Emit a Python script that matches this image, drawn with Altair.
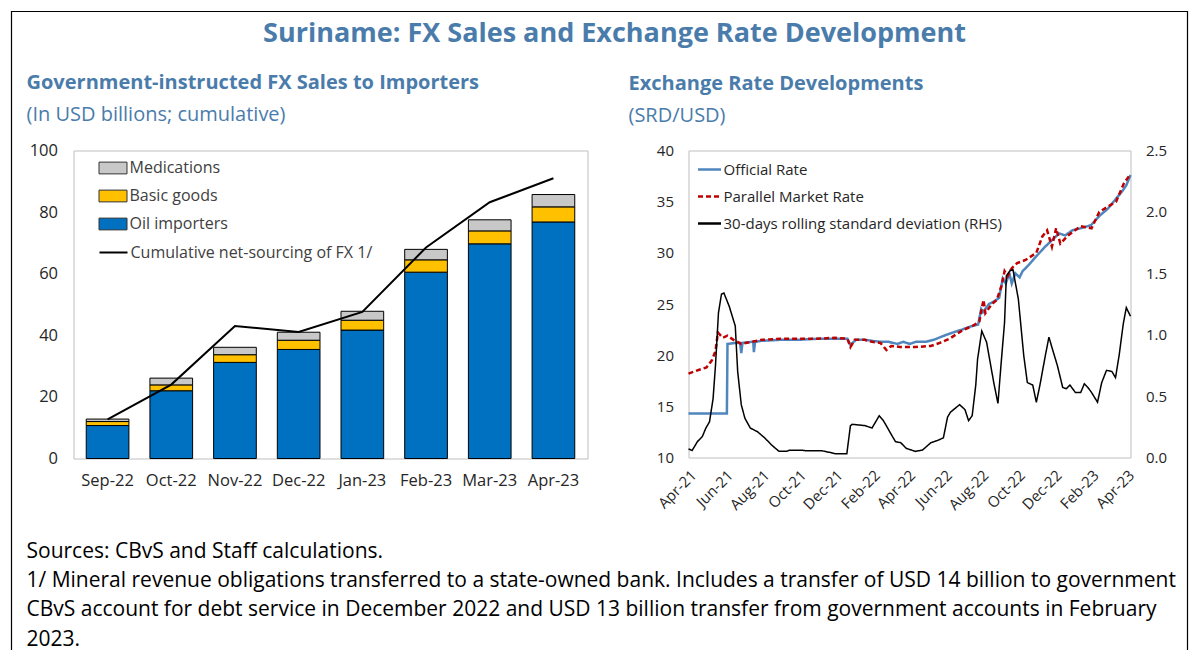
import altair as alt
import pandas as pd

FONT = "Open Sans"
BLUE_T = "#4a7cab"

# ---------------- Left panel data ----------------
months = ["Sep-22", "Oct-22", "Nov-22", "Dec-22", "Jan-23", "Feb-23", "Mar-23", "Apr-23"]
oil_importers = [10.7, 22.0, 31.2, 35.4, 41.7, 60.5, 69.7, 76.8]
basic_goods = [1.3, 1.9, 2.5, 3.0, 3.2, 4.0, 4.2, 4.9]
medications = [0.8, 2.2, 2.4, 2.6, 2.9, 3.4, 3.6, 4.0]
net_sourcing = [12.7, 24.0, 43.0, 41.1, 47.6, 68.5, 83.2, 91.0]

seg_names = ["Medications", "Basic goods", "Oil importers"]
seg_colors = ["#c8c8c8", "#ffc000", "#0070c0"]
line_name = "Cumulative net-sourcing of FX 1/"

# ---------------- Right panel data ----------------
official_dates = ["2021-04-01", "2021-06-04", "2021-06-05", "2021-06-20", "2021-06-26", "2021-06-28",
                  "2021-06-30", "2021-07-15", "2021-07-18", "2021-07-19", "2021-07-21", "2021-08-01",
                  "2021-09-01", "2021-10-01", "2021-11-01", "2021-12-01", "2021-12-22", "2021-12-27",
                  "2022-01-05", "2022-01-20", "2022-02-01", "2022-02-15", "2022-03-01", "2022-03-15",
                  "2022-03-25", "2022-04-05", "2022-04-15", "2022-05-01", "2022-05-15", "2022-06-01",
                  "2022-06-15", "2022-07-01", "2022-07-15", "2022-07-28", "2022-08-02", "2022-08-05",
                  "2022-08-15", "2022-08-25", "2022-09-01", "2022-09-07", "2022-09-12", "2022-09-18",
                  "2022-09-22", "2022-09-28", "2022-10-05", "2022-10-10", "2022-10-20", "2022-11-01",
                  "2022-11-15", "2022-12-01", "2022-12-10", "2022-12-20", "2023-01-01", "2023-01-15",
                  "2023-02-01", "2023-02-15", "2023-03-01", "2023-03-15", "2023-03-25", "2023-04-01",
                  "2023-04-08"]
official_rate = [14.3, 14.3, 21.1, 21.2, 21.2, 20.2, 21.2, 21.3, 21.3, 20.3, 21.3, 21.4,
                 21.5, 21.5, 21.6, 21.6, 21.6, 21.0, 21.5, 21.5, 21.4, 21.3, 21.3, 21.1,
                 21.3, 21.1, 21.3, 21.3, 21.5, 21.9, 22.2, 22.5, 22.8, 23.0, 24.5, 24.2,
                 25.0, 25.3, 25.6, 27.5, 27.0, 28.0, 27.0, 28.0, 27.6, 28.2, 28.8, 29.6,
                 30.5, 31.4, 31.9, 31.7, 32.2, 32.4, 32.7, 33.6, 34.3, 35.3, 36.0, 36.6,
                 37.6]

parallel_dates = ["2021-04-01", "2021-04-20", "2021-05-01", "2021-05-10", "2021-05-16", "2021-05-20",
                  "2021-05-28", "2021-06-05", "2021-06-15", "2021-06-28", "2021-07-15", "2021-08-01",
                  "2021-09-01", "2021-10-01", "2021-11-01", "2021-12-01", "2021-12-22", "2021-12-27",
                  "2022-01-03", "2022-01-20", "2022-02-01", "2022-02-15", "2022-02-25", "2022-03-05",
                  "2022-03-20", "2022-04-15", "2022-05-10", "2022-05-25", "2022-06-10", "2022-07-01",
                  "2022-07-20", "2022-07-30", "2022-08-03", "2022-08-06", "2022-08-09", "2022-08-20",
                  "2022-08-28", "2022-09-05", "2022-09-10", "2022-09-15", "2022-09-22", "2022-10-01",
                  "2022-10-15", "2022-11-02", "2022-11-12", "2022-11-20", "2022-11-28", "2022-12-05",
                  "2022-12-12", "2022-12-25", "2023-01-15", "2023-02-02", "2023-02-15", "2023-03-01",
                  "2023-03-15", "2023-03-28", "2023-04-08"]
parallel_rate = [18.2, 18.6, 18.8, 19.5, 20.4, 22.2, 21.7, 21.9, 21.5, 21.1, 21.3, 21.5,
                 21.6, 21.6, 21.6, 21.7, 21.6, 20.8, 21.5, 21.5, 21.3, 21.2, 20.5, 20.9,
                 20.8, 20.8, 20.9, 21.2, 21.6, 22.4, 22.9, 23.3, 24.6, 25.4, 24.1, 25.0,
                 25.4, 26.8, 28.2, 27.7, 28.5, 29.0, 29.3, 30.0, 31.6, 32.2, 30.6, 32.4,
                 30.9, 31.7, 32.6, 32.4, 34.0, 34.5, 35.0, 36.8, 37.7]

sd_dates = ["2021-04-01", "2021-04-07", "2021-04-16", "2021-04-24", "2021-04-30", "2021-05-06",
            "2021-05-12", "2021-05-16", "2021-05-21", "2021-05-26", "2021-05-30", "2021-06-08",
            "2021-06-18", "2021-06-22", "2021-06-28", "2021-07-04", "2021-07-13", "2021-07-25",
            "2021-08-06", "2021-08-18", "2021-08-30", "2021-09-11", "2021-09-17", "2021-10-05",
            "2021-10-16", "2021-11-10", "2021-11-21", "2021-12-03", "2021-12-21", "2021-12-27",
            "2021-12-30", "2022-01-20", "2022-02-01", "2022-02-07", "2022-02-13", "2022-02-20",
            "2022-03-06", "2022-03-12", "2022-03-21", "2022-03-30", "2022-04-14", "2022-04-26",
            "2022-05-10", "2022-05-22", "2022-05-31", "2022-06-07", "2022-06-12", "2022-06-27",
            "2022-07-06", "2022-07-12", "2022-07-18", "2022-07-24", "2022-07-27", "2022-08-03",
            "2022-08-11", "2022-08-23", "2022-08-30", "2022-09-04", "2022-09-10", "2022-09-13",
            "2022-09-19", "2022-09-24", "2022-10-03", "2022-10-12", "2022-10-18", "2022-10-27",
            "2022-11-02", "2022-11-08", "2022-11-17", "2022-11-23", "2022-11-29", "2022-12-07",
            "2022-12-16", "2022-12-22", "2022-12-28", "2023-01-06", "2023-01-15", "2023-01-21",
            "2023-01-27", "2023-02-02", "2023-02-12", "2023-02-19", "2023-02-27", "2023-03-08",
            "2023-03-14", "2023-03-20", "2023-03-27", "2023-04-01", "2023-04-04", "2023-04-08"]
sd_values = [0.07, 0.057, 0.13, 0.17, 0.24, 0.29,
             0.48, 0.75, 1.18, 1.33, 1.34, 1.23,
             1.07, 0.70, 0.43, 0.32, 0.24, 0.21,
             0.16, 0.10, 0.05, 0.05, 0.06, 0.06,
             0.054, 0.054, 0.043, 0.03, 0.03, 0.26,
             0.27, 0.26, 0.24, 0.29, 0.34, 0.30,
             0.18, 0.13, 0.12, 0.075, 0.05, 0.06,
             0.12, 0.14, 0.16, 0.33, 0.37, 0.43,
             0.39, 0.30, 0.34, 0.59, 0.80, 1.03,
             0.94, 0.61, 0.44, 0.75, 1.10, 1.48,
             1.52, 1.53, 1.29, 0.83, 0.61, 0.59,
             0.45, 0.59, 0.83, 0.98, 0.88, 0.75,
             0.57, 0.56, 0.59, 0.53, 0.53, 0.60,
             0.57, 0.53, 0.45, 0.61, 0.71, 0.70,
             0.65, 0.83, 1.09, 1.22, 1.19, 1.15]

series_names = ["Official Rate", "Parallel Market Rate", "30-days rolling standard deviation (RHS)"]
series_colors = ["#4f86be", "#c00000", "#000000"]
series_dash = [[1, 0], [5, 3], [1, 0]]

tick_dates = [(2021, 4), (2021, 6), (2021, 8), (2021, 10), (2021, 12), (2022, 2), (2022, 4),
              (2022, 6), (2022, 8), (2022, 10), (2022, 12), (2023, 2), (2023, 4)]

main_title = "Suriname: FX Sales and Exchange Rate Development"
footnotes = [
    "Sources: CBvS and Staff calculations.",
    "1/ Mineral revenue obligations transferred to a state-owned bank. Includes a transfer of USD 14 billion to government",
    "CBvS account for debt service in December 2022 and USD 13 billion transfer from government accounts in February",
    "2023.",
]

# ---------------- Build left chart ----------------
rows = []
for i, m in enumerate(months):
    rows.append({"month": m, "segment": "Oil importers", "value": oil_importers[i], "ord": 0})
    rows.append({"month": m, "segment": "Basic goods", "value": basic_goods[i], "ord": 1})
    rows.append({"month": m, "segment": "Medications", "value": medications[i], "ord": 2})
bar_df = pd.DataFrame(rows)
line_df = pd.DataFrame({"month": months, "value": net_sourcing, "label": [line_name] * len(months)})

x_band = alt.X("month:N", sort=months,
               scale=alt.Scale(paddingInner=0.33, paddingOuter=0.2),
               axis=alt.Axis(title=None, labelAngle=0, ticks=False, domain=False,
                             labelFontSize=16.5, labelPadding=14, labelColor="#262626"))
y_left = alt.Y("value:Q", stack="zero", scale=alt.Scale(domain=[0, 100]),
               axis=alt.Axis(title=None, values=list(range(0, 101, 10)), ticks=False, domain=False,
                             grid=False, labelFontSize=16.5, labelPadding=16, minExtent=59,
                             labelColor="#262626"))

bars = alt.Chart(bar_df).mark_bar(stroke="black", strokeWidth=1).encode(
    x=x_band,
    y=y_left,
    fill=alt.Fill("segment:N", scale=alt.Scale(domain=seg_names, range=seg_colors),
                  legend=alt.Legend(title=None, orient="none", legendX=25, legendY=3,
                                    symbolType="M-1,-0.42H1V0.42H-1Z", symbolSize=784,
                                    symbolStrokeColor="#333333", symbolStrokeWidth=1,
                                    labelFontSize=16, labelColor="#404040", labelOffset=2,
                                    labelLimit=0, rowPadding=5)),
    order=alt.Order("ord:Q"),
)

net_line = alt.Chart(line_df).mark_line(strokeWidth=2).encode(
    x=alt.X("month:N", sort=months),
    y=alt.Y("value:Q"),
    stroke=alt.Stroke("label:N", scale=alt.Scale(domain=[line_name], range=["black"]),
                      legend=alt.Legend(title=None, orient="none", legendX=25, legendY=87,
                                        symbolType="stroke", symbolSize=784, symbolStrokeWidth=2,
                                        labelFontSize=16, labelColor="#404040", labelOffset=2,
                                        labelLimit=0)),
)

left = alt.layer(bars, net_line).properties(
    width=514, height=308,
    title=alt.TitleParams(text="Government-instructed FX Sales to Importers",
                          subtitle="(In USD billions; cumulative)",
                          anchor="start", frame="group", dx=-47,
                          fontSize=20, fontWeight="bold", color=BLUE_T,
                          subtitleFontSize=20, subtitleColor=BLUE_T, subtitleFontWeight="normal",
                          subtitlePadding=12, offset=18, font=FONT, subtitleFont=FONT),
).resolve_scale(fill="independent", stroke="independent")

# ---------------- Build right chart ----------------
rates_df = pd.concat([
    pd.DataFrame({"date": official_dates, "value": official_rate, "series": series_names[0]}),
    pd.DataFrame({"date": parallel_dates, "value": parallel_rate, "series": series_names[1]}),
])
sd_df = pd.DataFrame({"date": sd_dates, "value": sd_values, "series": series_names[2]})

x_time = alt.X("date:T",
               scale=alt.Scale(type="utc",
                               domain=[alt.DateTime(year=2021, month=4, date=1, utc=True),
                                       alt.DateTime(year=2023, month=4, date=8, utc=True)]),
               axis=alt.Axis(title=None,
                             values=[alt.DateTime(year=y, month=m, date=1, utc=True) for y, m in tick_dates],
                             labelExpr="utcFormat(datum.value, '%b-%y')",
                             labelAngle=-45, labelOverlap=False, ticks=False, domain=False, grid=False,
                             labelFontSize=15, labelPadding=10, labelColor="#262626"))

legend_r = alt.Legend(title=None, orient="none", legendX=8, legendY=6,
                      symbolType="stroke", symbolSize=529, symbolStrokeWidth=2.5,
                      labelFontSize=15, labelColor="#262626", labelOffset=1,
                      labelLimit=0, rowPadding=6)
color_enc = alt.Color("series:N", scale=alt.Scale(domain=series_names, range=series_colors),
                      legend=legend_r)
dash_enc = alt.StrokeDash("series:N", scale=alt.Scale(domain=series_names, range=series_dash),
                          legend=legend_r)

rates = alt.Chart(rates_df).mark_line(strokeWidth=2.5).encode(
    x=x_time,
    y=alt.Y("value:Q", scale=alt.Scale(domain=[10, 40]),
            axis=alt.Axis(title=None, values=list(range(10, 41, 5)), ticks=False, domain=False,
                          grid=False, labelFontSize=15, labelPadding=15, minExtent=40,
                          labelColor="#262626")),
    color=color_enc,
    strokeDash=dash_enc,
)

sd_line = alt.Chart(sd_df).mark_line(strokeWidth=1.5).encode(
    x=x_time,
    y=alt.Y("value:Q", scale=alt.Scale(domain=[0, 2.5]),
            axis=alt.Axis(title=None, orient="right", values=[0, 0.5, 1.0, 1.5, 2.0, 2.5],
                          format=".1f", ticks=False, domain=False, grid=False,
                          labelFontSize=15, labelPadding=15, labelColor="#262626")),
    color=color_enc,
    strokeDash=dash_enc,
)

right = alt.layer(rates, sd_line).resolve_scale(y="independent").properties(
    width=442, height=307,
    title=alt.TitleParams(text="Exchange Rate Developments",
                          subtitle="(SRD/USD)",
                          anchor="start", frame="group", dx=-60,
                          fontSize=20, fontWeight="bold", color=BLUE_T,
                          subtitleFontSize=20, subtitleColor=BLUE_T, subtitleFontWeight="normal",
                          subtitlePadding=12, offset=18, font=FONT, subtitleFont=FONT),
)

# ---------------- Footer (footnotes, main title, outer frame) ----------------
foot_df = pd.DataFrame({"i": list(range(len(footnotes))), "line": footnotes})
foot_text = alt.Chart(foot_df).mark_text(align="left", baseline="middle", fontSize=21,
                                         color="black", font=FONT).encode(
    x=alt.value(-47),
    y=alt.Y("i:Q", scale=alt.Scale(domain=[0, 3], reverse=True, nice=False), axis=None),
    text="line:N",
)
title_df = pd.DataFrame({"t": [main_title]})
title_text = alt.Chart(title_df).mark_text(align="center", baseline="middle", fontSize=27,
                                           fontWeight="bold", color=BLUE_T, font=FONT).encode(
    x=alt.value(541), y=alt.value(-518), text="t:N")
frame = alt.Chart(pd.DataFrame({"k": [0]})).mark_rect(
    fillOpacity=0, stroke="black", strokeWidth=1.2).encode(
    x=alt.value(-62), x2=alt.value(1114), y=alt.value(-540), y2=alt.value(160))

footer = alt.layer(frame, title_text, foot_text).properties(
    width=1000, height=88, view=alt.ViewBackground(stroke="transparent"))

top = alt.hconcat(left, right, spacing=39).resolve_scale(color="independent",
                                                          strokeDash="independent")

chart = alt.vconcat(top, footer, spacing=-504).properties(
    padding={"left": 1.5, "top": 1.5, "right": 0, "bottom": 0},
).configure(font=FONT).configure_view(stroke="#bfbfbf", strokeWidth=1)

chart.save("out.html", embed_options={"renderer": "svg", "actions": False})
